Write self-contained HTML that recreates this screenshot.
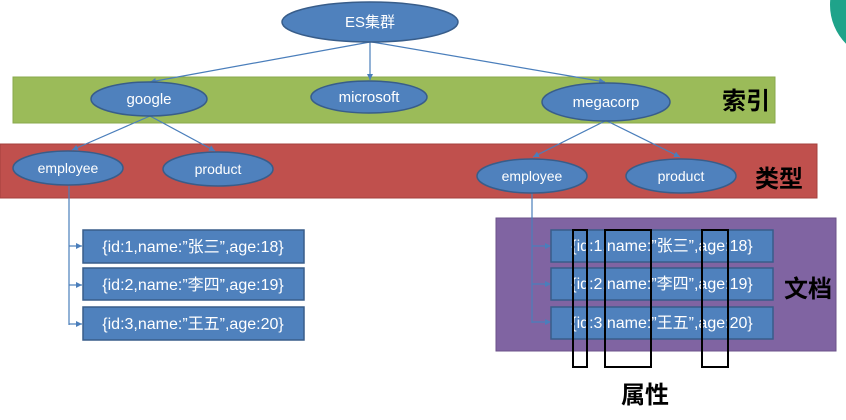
<!DOCTYPE html>
<html><head><meta charset="utf-8"><style>
html,body{margin:0;padding:0;background:#fff;width:846px;height:420px;overflow:hidden}
text{font-family:"Liberation Sans","Noto Sans CJK SC",sans-serif}
</style></head><body>
<svg width="846" height="420" viewBox="0 0 846 420" xmlns="http://www.w3.org/2000/svg">
<defs><marker id="a" markerWidth="8" markerHeight="8" refX="6" refY="3" orient="auto" markerUnits="userSpaceOnUse"><path d="M0,0 L6,3 L0,6 z" fill="#4a7ebb"/></marker></defs>
<circle cx="885" cy="5" r="55" fill="#1fa38a"/>
<rect x="13" y="77" width="762" height="46" fill="#9bbb59" stroke="#8aa84c"/>
<rect x="0" y="144" width="817" height="54" fill="#c0504d" stroke="#a5403d"/>
<rect x="496" y="218" width="340" height="133" fill="#8064a2" stroke="#6b528a"/>
<g stroke="#4a7ebb" stroke-width="1.2" fill="none">
<line x1="370" y1="42" x2="150" y2="82" marker-end="url(#a)"/>
<line x1="370" y1="42" x2="370" y2="80" marker-end="url(#a)"/>
<line x1="372" y1="42" x2="605" y2="82" marker-end="url(#a)"/>
<line x1="150" y1="116" x2="72" y2="150" marker-end="url(#a)"/>
<line x1="150" y1="116" x2="215" y2="151" marker-end="url(#a)"/>
<line x1="605" y1="121" x2="533" y2="157" marker-end="url(#a)"/>
<line x1="607" y1="121" x2="680" y2="157" marker-end="url(#a)"/>
<polyline points="69,186 69,325"/>
<line x1="69" y1="246" x2="82" y2="246" marker-end="url(#a)"/>
<line x1="69" y1="285" x2="82" y2="285" marker-end="url(#a)"/>
<line x1="69" y1="324" x2="82" y2="324" marker-end="url(#a)"/>
<polyline points="532,193 532,323"/>
<line x1="532" y1="246" x2="551" y2="246" marker-end="url(#a)"/>
<line x1="532" y1="284" x2="551" y2="284" marker-end="url(#a)"/>
<line x1="532" y1="322" x2="551" y2="322" marker-end="url(#a)"/>
</g>
<g fill="#4f81bd" stroke="#385d8a" stroke-width="1.5">
<ellipse cx="370" cy="22" rx="88" ry="20"/>
<ellipse cx="149" cy="99" rx="58" ry="17"/>
<ellipse cx="369" cy="97" rx="58" ry="16"/>
<ellipse cx="606" cy="102" rx="64" ry="19"/>
<ellipse cx="68" cy="168" rx="55" ry="17"/>
<ellipse cx="218" cy="169" rx="55" ry="17"/>
<ellipse cx="532" cy="176" rx="55" ry="17"/>
<ellipse cx="681" cy="176" rx="55" ry="17"/>
<rect x="83" y="230" width="221" height="33"/>
<rect x="83" y="268" width="221" height="32"/>
<rect x="83" y="307" width="221" height="33"/>
<rect x="551" y="230" width="222" height="32"/>
<rect x="551" y="268" width="222" height="32"/>
<rect x="551" y="307" width="222" height="32"/>
</g>
<g fill="#fff" font-size="15" text-anchor="middle">
<text x="370" y="27">ES集群</text>
<text x="149" y="104">google</text>
<text x="369" y="102">microsoft</text>
<text x="606" y="107">megacorp</text>
<text x="68" y="173" font-size="14">employee</text>
<text x="218" y="174" font-size="14">product</text>
<text x="532" y="181" font-size="14">employee</text>
<text x="681" y="181" font-size="14">product</text>
<text x="193" y="252" font-size="16">{id:1,name:”张三”,age:18}</text>
<text x="193" y="290" font-size="16">{id:2,name:”李四”,age:19}</text>
<text x="193" y="329" font-size="16">{id:3,name:”王五”,age:20}</text>
<text x="662" y="251" font-size="16">{id:1,name:”张三”,age:18}</text>
<text x="662" y="289" font-size="16">{id:2,name:”李四”,age:19}</text>
<text x="662" y="328" font-size="16">{id:3,name:”王五”,age:20}</text>
</g>
<g fill="none" stroke="#000" stroke-width="2">
<rect x="573" y="230" width="14" height="137"/>
<rect x="605" y="230" width="46" height="137"/>
<rect x="702" y="230" width="26" height="137"/>
</g>
<g fill="#000" font-size="24" font-weight="bold" text-anchor="middle">
<text x="746" y="109">索引</text>
<text x="779" y="187">类型</text>
<text x="808" y="297">文档</text>
<text x="645" y="403">属性</text>
</g>
</svg>
</body></html>
